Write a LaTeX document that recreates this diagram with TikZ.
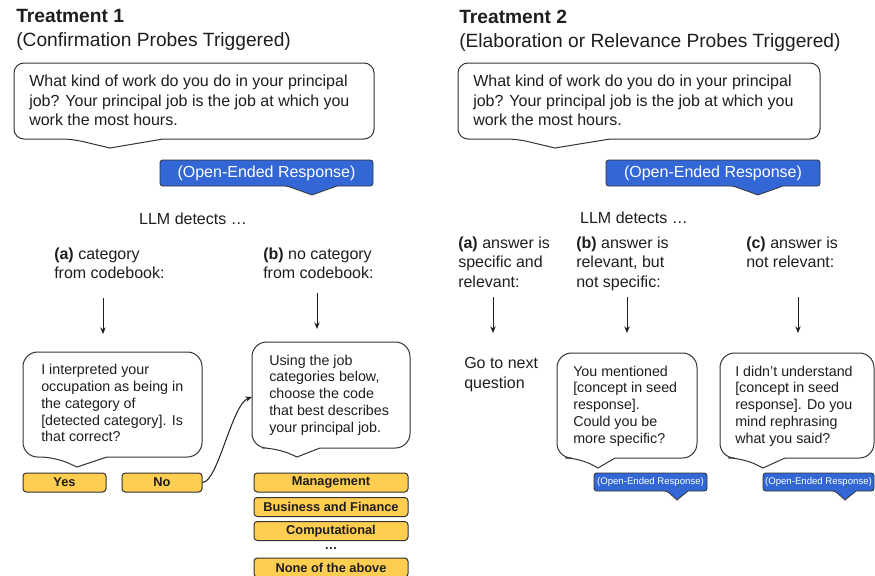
\documentclass[tikz,border=0pt]{standalone}
\usepackage{fontspec}
\setmainfont{Liberation Sans}
\usetikzlibrary{arrows.meta}
\definecolor{gblue}{HTML}{3367D6}
\definecolor{gyellow}{HTML}{FFCD4F}
\definecolor{edge}{HTML}{333333}
\definecolor{txt}{HTML}{1E1E1E}
\tikzset{
  bub/.style={draw=edge, line width=0.75pt, fill=white},
  bluetag/.style={draw=edge, line width=0.6pt, fill=gblue},
  ybox/.style={draw=edge, line width=0.75pt, fill=gyellow, rounded corners=2.5pt,
    font=\fontsize{9.6}{11}\selectfont\bfseries, text=txt, inner sep=0pt,
    minimum height=14.25pt},
  title/.style={anchor=north west, align=left, inner sep=0pt,
    font=\fontsize{14.4}{18}\selectfont, text=txt},
  body/.style={anchor=north west, align=left, inner sep=0pt,
    font=\fontsize{12}{14.6}\selectfont, text=txt},
  small/.style={anchor=north west, align=left, inner sep=0pt,
    font=\fontsize{10.7}{12.6}\selectfont, text=txt},
  tagtext/.style={inner sep=0pt, text=white, font=\fontsize{12}{14}\selectfont},
  tagsmall/.style={inner sep=0pt, text=white, font=\fontsize{7.2}{8}\selectfont},
  detect/.style={inner sep=0pt, text=txt, font=\fontsize{12}{14}\selectfont},
  arr/.style={draw=txt, line width=0.75pt, -{Stealth[length=5pt,width=4pt]}},
}
% x1 y1 x2 y2 tailleft tipx tipy tailright radius
\newcommand\mybubble[9]{%
  \draw[bub] (#5,#4) -- (#6,#7) -- (#8,#4) [rounded corners=#9] -- (#3,#4) -- (#3,#2) -- (#1,#2) -- (#1,#4) -- cycle;}
\newcommand\mytag[8]{%
  \draw[bluetag] (#5,#4) -- (#6,#7) -- (#8,#4) [rounded corners=2pt] -- (#3,#4) -- (#3,#2) -- (#1,#2) -- (#1,#4) -- cycle;}
\begin{document}
\begin{tikzpicture}[x=0.75pt,y=-0.75pt]
\useasboundingbox (0,0) rectangle (875,575);

% ================= Treatment 1 =================
\node[title] (t1) at (16,9.5) {\textbf{Treatment 1}\\(Confirmation Probes Triggered)};

\mybubble{14}{63}{374}{139}{72}{110}{148}{163}{7.5pt}
\node[body] (q1) at (29,75) {What kind of work do you do in your principal\\job? Your principal job is the job at which you\\work the most hours.};

\mytag{160}{160}{373}{186}{287}{312}{195}{337}
\node[tagtext] (r1) at (266.5,173) {(Open-Ended Response)};

\node[detect] (d1) at (193,219) {LLM detects …};

\node[body] (a1) at (54,247.5) {\textbf{(a)} category\\from codebook:};
\node[body] (b1) at (263,247.5) {\textbf{(b)} no category\\from codebook:};

\coordinate (a1s) at (103,298);
\coordinate (a1e) at (103,334);
\coordinate (b1s) at (317,293);
\coordinate (b1e) at (317,329);
\draw[arr] (a1s) -- (a1e);
\draw[arr] (b1s) -- (b1e);

\mybubble{23}{352}{202}{457}{55}{77}{467}{107}{11pt}
\node[small] (c1) at (41,364) {I interpreted your\\occupation as being in\\the category of\\{}[detected category]. Is\\that correct?};

\node[ybox, minimum width=62.25pt] (yes) at (64.5,482.5) {Yes};
\node[ybox, minimum width=60pt] (no) at (162,482.5) {No};

\mybubble{252}{342}{410}{448}{277}{297}{457}{320}{11pt}
\node[small] (c2) at (269,354.5) {Using the job\\categories below,\\choose the code\\that best describes\\your principal job.};
\coordinate (c2w) at (252,397);

\draw[arr] (no.east) .. controls (218,482) and (232,404) .. (c2w);

\node[ybox, minimum width=115.5pt] (m1) at (331,482.5) {Management};
\node[ybox, minimum width=115.5pt] (m2) at (331,507) {Business and Finance};
\node[ybox, minimum width=115.5pt] (m3) at (331,531) {Computational};
\node[inner sep=0pt, text=txt, font=\fontsize{9.6}{11}\selectfont\bfseries] (dots) at (331,549) {…};
\node[ybox, minimum width=115.5pt] (m4) at (331,567.5) {None of the above};

% ================= Treatment 2 =================
\node[title] (t2) at (459,9.5) {\textbf{Treatment 2}\\(Elaboration or Relevance Probes Triggered)};

\mybubble{458}{63}{820}{139}{517}{555}{148}{610}{7.5pt}
\node[body] (q2) at (473,75) {What kind of work do you do in your principal\\job? Your principal job is the job at which you\\work the most hours.};

\mytag{606}{160}{820}{186}{733}{758}{195}{783}
\node[tagtext] (r2) at (713,173) {(Open-Ended Response)};

\node[detect] (d2) at (634,218) {LLM detects …};

\node[body] (a2) at (458,236.5) {\textbf{(a)} answer is\\specific and\\relevant:};
\node[body] (b2) at (576,236.5) {\textbf{(b)} answer is\\relevant, but\\not specific:};
\node[body] (e2) at (746,236.5) {\textbf{(c)} answer is\\not relevant:};

\coordinate (a2s) at (493,297);
\coordinate (a2e) at (493,333);
\coordinate (b2s) at (627,297);
\coordinate (b2e) at (627,333);
\coordinate (e2s) at (798,297);
\coordinate (e2e) at (798,333);
\draw[arr] (a2s) -- (a2e);
\draw[arr] (b2s) -- (b2e);
\draw[arr] (e2s) -- (e2e);

\node[body] (go) at (464,357.5) {Go to next\\question};

\mybubble{557}{353}{697}{458}{580}{598}{468}{615}{11pt}
\node[small] (p2) at (573,365.5) {You mentioned\\{}[concept in seed\\response].\\Could you be\\more specific?};

\mybubble{720}{353}{874}{458}{743}{763}{468}{785}{11pt}
\node[small] (p3) at (735,365.5) {I didn’t understand\\{}[concept in seed\\response]. Do you\\mind rephrasing\\what you said?};

\mytag{594}{473}{707}{491}{667}{677}{500}{688}
\node[tagsmall] (r3) at (650.5,482) {(Open-Ended Response)};
\mytag{763}{473}{874}{491}{835}{845}{500}{856}
\node[tagsmall] (r4) at (818.5,482) {(Open-Ended Response)};

\end{tikzpicture}
\end{document}
